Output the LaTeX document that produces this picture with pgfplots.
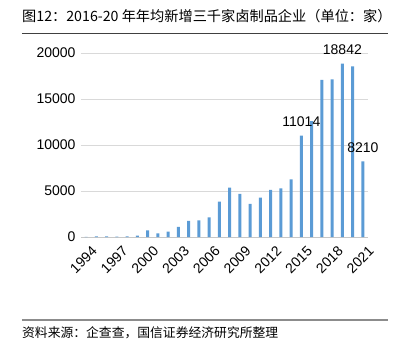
\documentclass[border=0pt]{standalone}
\usepackage{pgfplots}
\pgfplotsset{compat=1.18}
\usepackage{fontspec}
\setmainfont{Liberation Sans}
\newfontfamily\cjk{Noto Sans CJK SC}
\definecolor{barblue}{HTML}{5B9BD5}
\definecolor{gridgray}{HTML}{D9D9D9}
\begin{document}
\begin{tikzpicture}
\path[use as bounding box] (-81pt,-116pt) rectangle (320pt,237pt);
\begin{axis}[
  at={(0,0)}, anchor=south west,
  scale only axis, width=287pt, height=184pt,
  xmin=1993.5, xmax=2021.5, ymin=0, ymax=20000,
  xtick={1994,1997,...,2021},
  ytick={0,5000,10000,15000,20000},
  /pgf/number format/1000 sep={},
  /pgf/number format/assume math mode=true,
  scaled y ticks=false,
  ymajorgrids, grid style={gridgray, line width=0.8pt},
  axis x line*=bottom, axis y line*=left,
  y axis line style={draw=none},
  x axis line style={gridgray!80!gray, line width=0.8pt},
  xtick style={draw=none}, ytick style={draw=none},
  tick label style={font=\fontsize{14}{16}\selectfont},
  yticklabel style={xshift=-2pt},
  xticklabel style={rotate=45, anchor=north east, xshift=1pt, yshift=-6pt},
  clip=false,
]
\addplot[ybar, bar width=3.2pt, fill=barblue, draw=none] coordinates {
(1994,20) (1995,60) (1996,60) (1997,50) (1998,60) (1999,150)
(2000,730) (2001,400) (2002,580) (2003,1090) (2004,1740) (2005,1810)
(2006,2140) (2007,3840) (2008,5360) (2009,4680) (2010,3590) (2011,4275)
(2012,5110) (2013,5290) (2014,6270) (2015,11014) (2016,12600) (2017,17070)
(2018,17140) (2019,18842) (2020,18550) (2021,8210)};
\addplot[draw=none, mark=none, nodes near coords, point meta=y,
  nodes near coords style={font=\fontsize{14}{16}\selectfont, anchor=south, inner sep=0pt, yshift=9pt,
  /pgf/number format/.cd, fixed, 1000 sep={}, assume math mode=true}]
coordinates {(2015,11014) (2019,18842) (2021,8210)};
\end{axis}
\node[anchor=west, inner sep=0pt] at (-59pt,221pt) {\cjk\fontsize{14.2}{17}\selectfont 图12：2016-20 年年均新增三千家卤制品企业（单位：家）};
\draw[line width=0.9pt, black!75] (-59pt,204pt) -- (307pt,204pt);
\draw[line width=1.3pt, black!45] (-59pt,-83pt) -- (307pt,-83pt);
\node[anchor=west, inner sep=0pt] at (-59pt,-96pt) {\cjk\fontsize{12.8}{15}\selectfont 资料来源：企查查，国信证券经济研究所整理};
\end{tikzpicture}
\end{document}
